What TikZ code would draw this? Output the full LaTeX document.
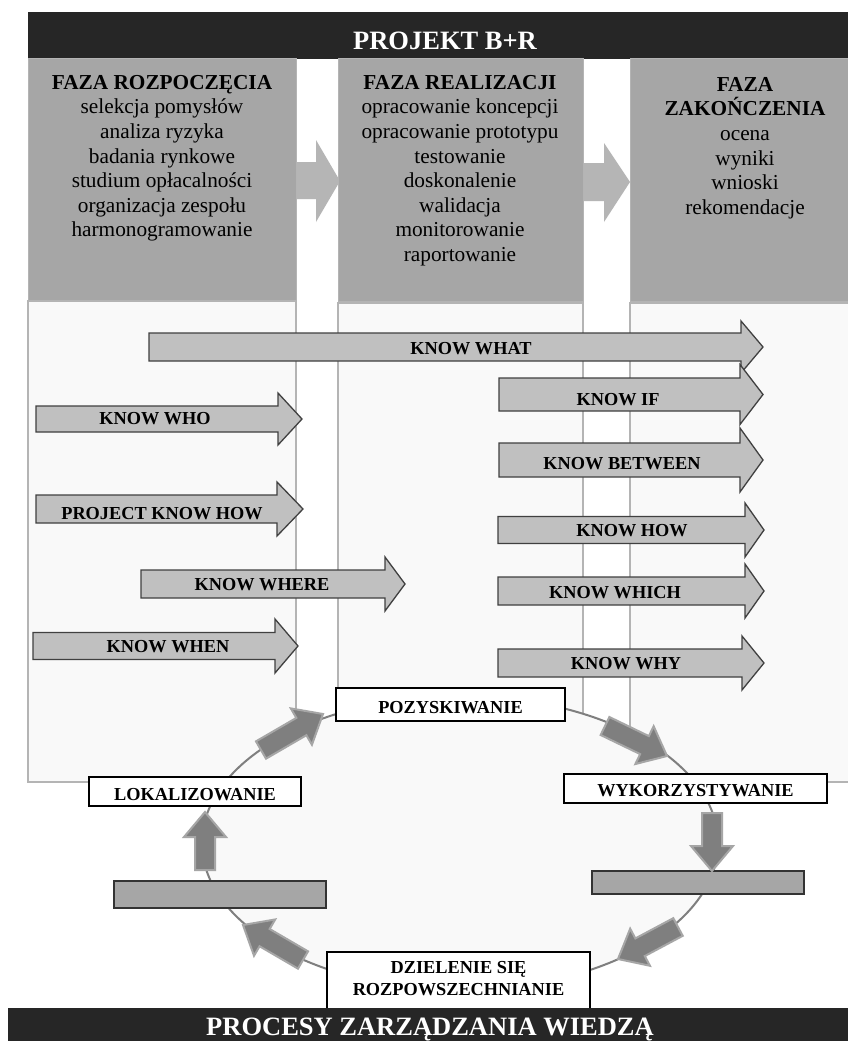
\documentclass[tikz,border=0pt]{standalone}
\usepackage{fontspec}
\setmainfont{Liberation Serif}
\usetikzlibrary{calc}
\definecolor{barc}{HTML}{262626}
\definecolor{topc}{HTML}{A6A6A6}
\definecolor{lightc}{HTML}{F9F9F9}
\definecolor{edgec}{HTML}{B4B4B4}
\definecolor{karrc}{HTML}{C0C0C0}
\definecolor{cycc}{HTML}{7F7F7F}
\definecolor{cycedge}{HTML}{A6A6A6}
\definecolor{betw}{HTML}{B5B5B5}
\tikzset{
  bar/.style={fill=barc, draw=none},
  coltop/.style={fill=topc, draw=edgec, line width=1pt},
  collow/.style={fill=lightc, draw=edgec, line width=1.5pt},
  coltext/.style={font=\fontsize{21.3}{24.6}\selectfont, align=center, inner sep=0pt, anchor=north},
  bartext/.style={font=\fontsize{26.5}{30}\selectfont\bfseries, text=white, inner sep=0pt, anchor=base},
  karr/.style={fill=karrc, draw=black!75, line width=1.3pt, line join=miter},
  ktext/.style={font=\fontsize{18.3}{20}\selectfont\bfseries, inner sep=0pt, anchor=base},
  cycbox/.style={fill=white, draw=black, line width=1.3pt},
  cyctext/.style={font=\fontsize{18.3}{22}\selectfont\bfseries, inner sep=0pt, anchor=base},
  graybox/.style={fill=topc, draw=black!80, line width=1.3pt},
  cyc/.style={fill=cycc, draw=cycedge, line width=2pt, line join=miter},
  betwarr/.style={fill=betw, draw=none}
}
% knowledge arrow: name, x0, xhead, xtip, ycenter, shaft half, head half, label, label base point
\newcommand\karrow[9]{%
  \draw[karr] (#2,#5-#6) -- (#3,#5-#6) -- (#3,#5-#7) -- (#4,#5) -- (#3,#5+#7) -- (#3,#5+#6) -- (#2,#5+#6) -- cycle;
  \node[ktext] (#1) at (#9) {#8};}
% fat cycle arrow from tail coordinate to tip coordinate
\newcommand\cycarrow[2]{%
  \coordinate (#1h) at ($(#2)!25pt!(#1)$);
  \draw[cyc] ($(#1)!10pt!90:(#2)$) -- ($(#1h)!10pt!90:(#2)$) -- ($(#1h)!21pt!90:(#2)$) -- (#2)
    -- ($(#1h)!21pt!-90:(#2)$) -- ($(#1h)!10pt!-90:(#2)$) -- ($(#1)!10pt!-90:(#2)$) -- cycle;}
\begin{document}
\begin{tikzpicture}[x=1pt,y=-1pt]
\useasboundingbox (0,0) rectangle (848,1041);
\fill[white] (0,0) rectangle (848,1041);

% header
\path[bar] (28,12) rectangle (850,59);
\node[bartext] (title) at (445,49.3) {PROJEKT B+R};

% arrows between phases
\path[betwarr] (295,162) -- (316,162) -- (316,140) -- (340,181) -- (316,222) -- (316,199) -- (295,199) -- cycle;
\path[betwarr] (583,163) -- (604,163) -- (604,143) -- (630,182) -- (604,222) -- (604,201) -- (583,201) -- cycle;

% columns
\draw[coltop] (28,59) rectangle (296,300);
\draw[coltop] (338,59) rectangle (583,301);
\draw[coltop] (630,59) rectangle (852,301);
\draw[collow] (28,301) rectangle (296,782);
\draw[collow] (338,303) rectangle (583,782);
\draw[collow] (630,303) rectangle (852,782);

\node[coltext] (c1) at (162,75) {\textbf{FAZA ROZPOCZĘCIA}\\selekcja pomysłów\\analiza ryzyka\\badania rynkowe\\studium opłacalności\\organizacja zespołu\\harmonogramowanie};
\node[coltext] (c2) at (460,75) {\textbf{FAZA REALIZACJI}\\opracowanie koncepcji\\opracowanie prototypu\\testowanie\\doskonalenie\\walidacja\\monitorowanie\\raportowanie};
\node[coltext] (c3) at (745,77) {\textbf{FAZA}\\\textbf{ZAKOŃCZENIA}\\ocena\\wyniki\\wnioski\\rekomendacje};

% knowledge arrows
\karrow{kwhat}{149}{741}{763}{347}{14}{26}{KNOW WHAT}{471,354}
\karrow{kif}{499}{740}{763}{394.5}{16.5}{30}{KNOW IF}{618,405}
\karrow{kbetween}{499}{740}{763}{460}{17}{32}{KNOW BETWEEN}{622,469}
\karrow{khow}{498}{745}{764}{530}{13.5}{27}{KNOW HOW}{632,536}
\karrow{kwhich}{498}{745}{764}{591}{14}{27}{KNOW WHICH}{615,598}
\karrow{kwhy}{498}{742}{764}{663}{14}{27}{KNOW WHY}{626,669}
\karrow{kwho}{36}{278}{302}{419}{13}{26}{KNOW WHO}{155,424}
\karrow{kpkh}{36}{277}{303}{509}{14}{27}{PROJECT KNOW HOW}{162,519}
\karrow{kwhere}{141}{385}{405}{584}{14}{27}{KNOW WHERE}{262,590}
\karrow{kwhen}{33}{275}{298}{646}{13.5}{27}{KNOW WHEN}{168,652}

% knowledge management cycle
\coordinate (cc) at (460,843);
\draw[fill=lightc, draw=cycc, line width=2pt] (cc) ellipse [x radius=258, y radius=147];

\draw[cycbox] (336,688) rectangle (565,721);
\node[cyctext] (poz) at (450.5,713.3) {POZYSKIWANIE};
\draw[cycbox] (564,774) rectangle (827,803);
\node[cyctext] (wyk) at (695.5,796.7) {WYKORZYSTYWANIE};
\draw[cycbox] (89,777) rectangle (301,806);
\node[cyctext] (lok) at (195,800.7) {LOKALIZOWANIE};
\draw[graybox] (114,881) rectangle (326,908);
\draw[graybox] (592,871) rectangle (804,894);
\draw[cycbox] (327,952) rectangle (590,1010);
\node[cyctext, align=center] (dziel) at (458.5,995) {DZIELENIE SIĘ\\ROZPOWSZECHNIANIE};

\coordinate (a1t) at (261,750); \coordinate (a1b) at (323,714);
\coordinate (a2t) at (605,726); \coordinate (a2b) at (667,756);
\coordinate (a3t) at (712,813); \coordinate (a3b) at (712,871);
\coordinate (a4t) at (678,927); \coordinate (a4b) at (618,959);
\coordinate (a5t) at (303,960); \coordinate (a5b) at (243,925);
\coordinate (a6t) at (205,870); \coordinate (a6b) at (205,812);
\cycarrow{a1t}{a1b}
\cycarrow{a2t}{a2b}
\cycarrow{a3t}{a3b}
\cycarrow{a4t}{a4b}
\cycarrow{a5t}{a5b}
\cycarrow{a6t}{a6b}

% bottom bar
\path[bar] (8,1008) rectangle (850,1045);
\node[bartext] (bottom) at (430,1035) {PROCESY ZARZĄDZANIA WIEDZĄ};
\end{tikzpicture}
\end{document}
